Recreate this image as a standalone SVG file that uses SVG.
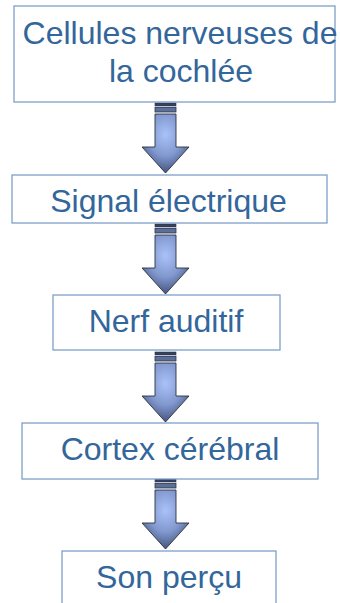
<svg xmlns="http://www.w3.org/2000/svg" width="340" height="603" viewBox="0 0 340 603">
<style>
.box{fill:#ffffff;stroke:#7f9fc7;stroke-width:1.3}
.lbl{font-family:"Liberation Sans",Arial,sans-serif;font-size:32px;fill:#33669a;text-anchor:middle}
.s1{fill:#34425e;stroke:#2a3550;stroke-width:0.6}
.s2{fill:#5b6f98;stroke:#2a3550;stroke-width:0.8}
.ar{fill:url(#ag);stroke:#2b3140;stroke-width:0.9;stroke-linejoin:miter}
</style>
<defs>
<radialGradient id="ag" cx="0.5" cy="0.35" r="0.65">
<stop offset="0" stop-color="#a9c2f7"/>
<stop offset="0.55" stop-color="#8299d0"/>
<stop offset="1" stop-color="#45557d"/>
</radialGradient>
<g id="arrow">
<rect class="s1" x="155" y="0" width="21" height="3"/>
<rect class="s2" x="155" y="4.5" width="21" height="4.5"/>
<path class="ar" d="M155,11 H176 V44 H189 L165.5,70 L142,44 H155 Z"/>
</g>
</defs>
<g id="connectors">
<use href="#arrow" transform="translate(0,103)"/>
<use href="#arrow" transform="translate(0,224)"/>
<use href="#arrow" transform="translate(0,352)"/>
<use href="#arrow" transform="translate(0,479)"/>
</g>
<g id="n1">
<rect class="box" x="14" y="6" width="321" height="96"/>
<text class="lbl" x="180" y="44">Cellules nerveuses de</text>
<text class="lbl" x="181" y="82">la cochlée</text>
</g>
<g id="n2">
<rect class="box" x="12" y="175" width="315" height="48"/>
<text class="lbl" x="168.5" y="212">Signal électrique</text>
</g>
<g id="n3">
<rect class="box" x="53" y="295" width="227" height="55"/>
<text class="lbl" x="166" y="332">Nerf auditif</text>
</g>
<g id="n4">
<rect class="box" x="22" y="423" width="296" height="56"/>
<text class="lbl" x="170" y="460">Cortex cérébral</text>
</g>
<g id="n5">
<rect class="box" x="62" y="551" width="214" height="60"/>
<text class="lbl" x="169" y="588">Son perçu</text>
</g>
</svg>
